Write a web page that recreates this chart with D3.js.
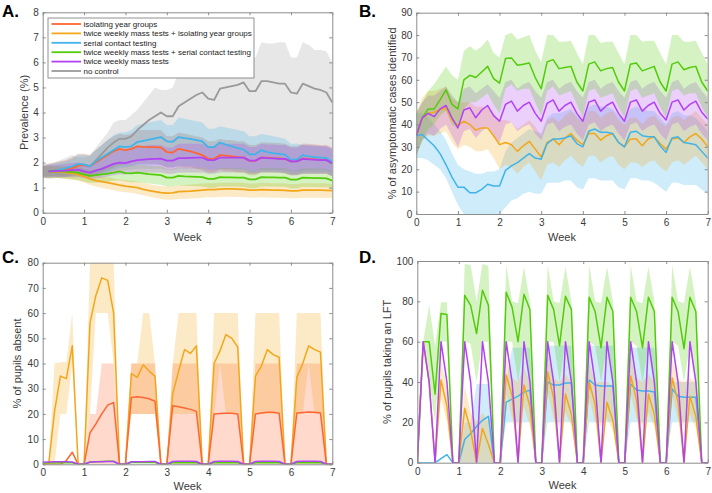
<!DOCTYPE html>
<html><head><meta charset="utf-8">
<script src="https://cdn.jsdelivr.net/npm/d3@7"></script>
<style>body{margin:0;background:#fff}</style>
</head><body>
<script>
// ---------------- DATA (daily values, day 0..49; x = day/7 weeks) ----------------
const weekTicks = [0,1,2,3,4,5,6,7];
const prevTicks = [0,1,2,3,4,5,6,7,8];
const detTicks = [0,10,20,30,40,50,60,70,80,90];
const absTicks = [0,10,20,30,40,50,60,70,80];
const lftTicks = [0,20,40,60,80,100];

const seriesNames = ["isolating year groups","twice weekly mass tests + isolating year groups","serial contact testing","twice weekly mass tests + serial contact testing","twice weekly mass tests","no control"];

// Panel A: prevalence (%)
const prevIsolating = [null,1.65,1.67,1.7,1.72,1.78,1.88,1.9,1.85,2.0,2.15,2.3,2.45,2.55,2.5,2.55,2.65,2.63,2.62,2.62,2.6,2.42,2.4,2.55,2.5,2.45,2.38,2.3,2.15,2.15,2.3,2.28,2.25,2.22,2.2,2.07,2.07,2.2,2.2,2.18,2.17,2.15,2.05,2.05,2.17,2.15,2.13,2.12,2.1,2.0];
const prevIsolatingLo = [1.45,1.45,1.45,1.45,1.45,1.5,1.5,1.5,1.45,1.5,1.6,1.7,1.8,1.9,1.9,1.9,1.95,1.95,1.95,1.95,1.9,1.8,1.8,1.85,1.8,1.8,1.75,1.7,1.6,1.6,1.7,1.65,1.65,1.6,1.6,1.5,1.5,1.6,1.6,1.6,1.6,1.55,1.5,1.5,1.55,1.55,1.55,1.55,1.55,1.45];
const prevIsolatingHi = [1.9,1.95,2.0,2.05,2.1,2.2,2.35,2.35,2.3,2.5,2.7,2.9,3.05,3.15,3.1,3.15,3.3,3.3,3.3,3.3,3.3,3.05,3.05,3.2,3.15,3.1,3.05,3.0,2.85,2.85,2.95,2.9,2.9,2.85,2.85,2.7,2.7,2.8,2.8,2.78,2.78,2.75,2.65,2.65,2.75,2.75,2.72,2.7,2.7,2.6];
const prevMassIso = [null,1.65,1.64,1.62,1.6,1.57,1.52,1.45,1.35,1.28,1.24,1.2,1.15,1.1,1.06,1.03,1.0,0.93,0.88,0.84,0.8,0.78,0.79,0.84,0.85,0.86,0.88,0.9,0.92,0.92,0.94,0.95,0.95,0.94,0.93,0.9,0.9,0.92,0.91,0.9,0.9,0.89,0.87,0.87,0.9,0.9,0.9,0.9,0.89,0.88];
const prevMassIsoLo = [1.4,1.4,1.4,1.38,1.35,1.32,1.28,1.2,1.12,1.05,1.0,0.95,0.9,0.85,0.82,0.8,0.75,0.7,0.65,0.6,0.55,0.52,0.52,0.55,0.56,0.57,0.58,0.6,0.62,0.62,0.63,0.64,0.64,0.63,0.63,0.6,0.6,0.62,0.61,0.6,0.6,0.6,0.58,0.58,0.6,0.6,0.6,0.6,0.6,0.58];
const prevMassIsoHi = [1.85,1.85,1.82,1.8,1.78,1.75,1.7,1.65,1.58,1.5,1.45,1.42,1.38,1.33,1.3,1.28,1.25,1.2,1.15,1.1,1.07,1.05,1.05,1.1,1.12,1.13,1.15,1.17,1.18,1.18,1.2,1.2,1.2,1.2,1.2,1.17,1.17,1.2,1.19,1.18,1.18,1.17,1.15,1.15,1.18,1.18,1.18,1.18,1.17,1.15];
const prevSerial = [null,1.65,1.68,1.72,1.78,1.85,1.95,1.92,1.85,2.05,2.2,2.35,2.5,2.65,2.62,2.65,2.82,2.87,2.92,2.97,3.02,2.85,2.83,3.02,2.98,2.95,2.9,2.85,2.62,2.62,2.8,2.72,2.65,2.58,2.52,2.33,2.33,2.5,2.42,2.38,2.35,2.32,2.12,2.12,2.3,2.25,2.22,2.2,2.18,2.02];
const prevSerialLo = [1.45,1.45,1.45,1.45,1.45,1.5,1.5,1.5,1.45,1.5,1.55,1.6,1.7,1.8,1.8,1.85,1.9,1.9,1.9,1.9,1.9,1.8,1.8,1.85,1.85,1.85,1.8,1.8,1.7,1.7,1.75,1.75,1.75,1.7,1.7,1.6,1.6,1.65,1.65,1.65,1.65,1.6,1.55,1.55,1.6,1.6,1.6,1.6,1.6,1.5];
const prevSerialHi = [1.85,1.9,1.95,2.0,2.05,2.15,2.3,2.3,2.25,2.5,2.7,2.9,3.1,3.2,3.2,3.3,3.5,3.55,3.6,3.65,3.7,3.5,3.5,3.8,3.75,3.7,3.65,3.6,3.35,3.35,3.45,3.4,3.35,3.3,3.25,3.05,3.05,3.15,3.1,3.05,3.0,2.95,2.75,2.75,2.7,2.68,2.66,2.64,2.62,2.5];
const prevMassSerial = [null,1.65,1.65,1.65,1.64,1.62,1.6,1.52,1.47,1.5,1.53,1.56,1.6,1.65,1.58,1.57,1.6,1.57,1.54,1.52,1.5,1.4,1.4,1.47,1.45,1.44,1.43,1.42,1.35,1.35,1.42,1.41,1.41,1.4,1.4,1.33,1.33,1.42,1.41,1.41,1.4,1.4,1.32,1.32,1.4,1.39,1.38,1.38,1.37,1.28];
const prevMassSerialLo = [1.4,1.4,1.4,1.38,1.36,1.34,1.3,1.25,1.2,1.2,1.22,1.25,1.28,1.3,1.25,1.22,1.22,1.2,1.17,1.14,1.12,1.05,1.05,1.1,1.08,1.07,1.06,1.05,1.0,1.0,1.05,1.05,1.05,1.04,1.04,0.98,0.98,1.05,1.05,1.05,1.04,1.04,0.97,0.97,1.04,1.03,1.03,1.02,1.02,0.95];
const prevMassSerialHi = [1.85,1.85,1.85,1.85,1.85,1.85,1.82,1.75,1.7,1.75,1.8,1.85,1.9,1.95,1.9,1.9,1.92,1.9,1.88,1.86,1.85,1.75,1.75,1.82,1.8,1.8,1.8,1.78,1.7,1.7,1.78,1.78,1.78,1.77,1.77,1.7,1.7,1.78,1.78,1.78,1.77,1.77,1.68,1.68,1.77,1.76,1.76,1.75,1.75,1.65];
const prevMass = [null,1.65,1.66,1.67,1.68,1.7,1.72,1.65,1.6,1.68,1.75,1.85,1.95,2.0,1.98,2.05,2.1,2.12,2.14,2.15,2.16,2.08,2.08,2.18,2.18,2.19,2.2,2.2,2.1,2.1,2.2,2.2,2.2,2.2,2.2,2.08,2.08,2.2,2.18,2.17,2.15,2.15,2.05,2.05,2.15,2.13,2.12,2.1,2.1,1.97];
const prevMassLo = [1.4,1.4,1.42,1.42,1.42,1.42,1.42,1.38,1.35,1.38,1.4,1.45,1.5,1.52,1.52,1.55,1.58,1.6,1.6,1.6,1.6,1.55,1.55,1.6,1.6,1.6,1.6,1.6,1.55,1.55,1.6,1.6,1.6,1.6,1.6,1.55,1.55,1.6,1.6,1.6,1.58,1.58,1.5,1.5,1.55,1.55,1.55,1.55,1.55,1.45];
const prevMassHi = [1.85,1.9,1.9,1.92,1.95,1.98,2.0,1.95,1.9,2.0,2.1,2.25,2.4,2.5,2.5,2.6,2.65,2.65,2.7,2.7,2.7,2.6,2.6,2.75,2.75,2.75,2.75,2.75,2.65,2.65,2.75,2.75,2.75,2.75,2.75,2.62,2.62,2.75,2.72,2.72,2.7,2.7,2.6,2.6,2.7,2.68,2.68,2.66,2.66,2.55];
const prevNoControl = [null,1.65,1.68,1.7,1.72,1.78,1.9,1.92,1.85,2.1,2.35,2.6,2.8,2.95,2.95,3.05,3.3,3.5,3.7,3.85,4.0,3.85,3.85,4.25,4.4,4.55,4.7,4.8,4.55,4.5,4.95,5.0,5.05,5.1,5.2,4.85,4.85,5.25,5.25,5.2,5.15,5.15,4.8,4.75,5.15,5.05,4.95,4.9,4.8,4.4];
const prevNoControlLo = [1.4,1.35,1.38,1.4,1.42,1.45,1.45,1.48,1.45,1.5,1.55,1.6,1.65,1.7,1.7,1.72,1.75,1.75,1.75,1.75,1.75,1.7,1.7,1.75,1.75,1.75,1.75,1.75,1.7,1.7,1.75,1.75,1.75,1.75,1.75,1.7,1.7,1.72,1.72,1.72,1.72,1.72,1.65,1.65,1.7,1.7,1.7,1.7,1.7,1.6];
const prevNoControlHi = [1.9,1.95,2.0,2.1,2.2,2.3,2.2,2.2,2.3,2.6,2.9,3.2,3.6,3.7,3.7,3.9,4.1,4.4,4.7,5.0,4.9,4.9,5.0,5.6,5.9,6.1,6.3,6.5,6.2,6.3,6.7,6.7,6.7,6.7,6.7,6.2,6.2,6.8,6.75,6.75,6.8,6.8,6.2,6.2,6.8,6.7,6.5,6.5,6.45,6.0];

// Panel B: % of asymptomatic cases identified
const detMassSerial = [35,43,47,47,51,55.5,49, 47,60,62,61,63.5,66,60.5, 58.5,69.5,69.8,66.5,67,67.5,61, 56,68,69,65,65.5,66,59, 55,67,68,64,65,65.5,59, 55,67,67.5,64,65,66,59, 55,67,68,64.5,65.5,66,59, 55];
const detMassSerialLo = [26,33,38,40,44,46,40, 38,47,50,50,52,54,49, 45,56,58,55,56,56,50, 44,55,57,53,54,55,49, 43,55,56,52,53,54,48, 43,55,56,52,53,54,48, 43,55,56,53,54,54,48, 43];
const detMassSerialHi = [45,50,55,58,62,66,62, 60,73,75,73,75,78,72, 70,80,81,78,79,80,73, 68,80,80,77,77,77.5,72, 67,80,80,76.5,77,77,72, 67,80,80,77,77.5,77.5,72, 67,80,80,77,77,77.5,72, 67];
const detMass = [35,43,45,43.5,47,48.5,43, 38.5,46.5,47.5,43,46.5,48.5,44, 41.5,49,50.5,46,48.5,50,45, 41.5,49.5,51,46,48.5,50,45, 41.5,50,51,46,48.5,50,45, 41.5,50,51,46,48.5,50,45, 42,50,51,46.5,49,50.5,45.5, 42.5];
const detMassLo = [26,33,36,35,38,40,35, 30,37,38,34,37,39,35, 32,40,41,37,39,40,36, 33,40,41,37,39,40,36, 33,40,41,37,39,40,36, 33,40,41,37,39,40,36, 33,40,41,37,39,40,36, 33];
const detMassHi = [45,50,53,53,55,57,53, 50,56,57,54,56,58,55, 52,59,60,56,58,59,55, 52,59,60,56,58,59,55, 52,59,60,56,58,59,55, 52,59,60,56,58,59,55, 52,59,60,56,58,59,55, 52];
const detMassIso = [35,43,45,45.5,46.5,47.5,42, 39.5,41.5,40,37.5,38.5,38.5,35, 31,32,31,28,30.5,32.5,29, 25.5,32,33.5,31,34,36,33, 31,36,36,33,35,36,32, 30,33.5,33.5,30.5,33.5,34.5,31.5, 29,33.5,34,32,34.5,36,33.5, 30];
const detMassIsoLo = [26,33,35,35,36,37,32, 29,31,30,28,28,29,25, 20,22,21,18,21,23,19, 15,22,23,21,24,26,23, 21,26,26,23,25,26,22, 20,23,23,21,23,24,21, 19,23,24,22,24,26,23, 20];
const detMassIsoHi = [45,52,55,55,56,57,52, 50,50,50,48,48,48,45, 42,42,41,38,40,42,39, 35,42,43,41,44,46,43, 41,46,46,43,45,46,42, 40,43,43,40,43,44,41, 39,43,44,42,44,46,43, 40];
const detSerial = [35,35.5,33,30.5,27,22,16.5, 12,12,9.5,9.5,11,13.3,12.5, 12.5,19.5,21.5,23,25,27,25, 24.5,31.5,33.5,33.5,34,35,31.5, 30,37,38,36.5,36.5,36,32, 30,36.5,37,35,34.5,34.5,30.5, 27.5,34,34.5,32,31.5,31,28, 25];
const detSerialLo = [25,25,24,22,20,16,10, 4,0,0,0,0,0,0, 0,3,6,7,9,10,9, 9,14,14,14,15,15,12, 11,16,16,15,15,15,12, 11,16,16,15,15,14,12, 10,14,14,13,13,13,11, 9];
const detSerialHi = [45,45,43,40,37,33,27, 22,20,19,18,18,19,19, 20,28,32,34,36,38,37, 36,43,45,45,46,47,44, 42,48,49,48,48,47,44, 42,47,48,47,46,46,43, 40,45,46,44,44,43,40, 37];

// Panel C: % of pupils absent
const absMassIso = [0,0,21,35,34,47,0, 0,56,67,74,73,60,0, 0,36,34.5,39.5,37,35,0, 0,28,37,45.5,44,47,0, 0,40,45,51.5,50,46.5,0, 0,35,39,45.5,43.5,42.5,0, 0,34.5,40,47,45.5,44.5,0, 0];
const absMassIsoLo = [0,0,0,20,20,40,0, 0,20,60,60,60,40,0, 0,20,20,20,20,20,0, 0,20,20,20,20,20,0, 0,20,40,20,20,20,0, 0,20,20,20,20,20,0, 0,20,20,40,20,20,0, 0];
const absMassIsoHi = [0,0,40,40.5,40.5,60,0, 0,80,80,80,80,80,0, 0,40,40,60,60,40,0, 0,40,60,60,60,60,0, 0,60,60,60,60,60,0, 0,60,60,60,60,60,0, 0,60,60,60,60,60,0, 0];
const absIsolating = [0,0,0,0,1.5,4.8,0, 0,12.5,16,20,23.5,24.5,0, 0,26.5,26.8,26.5,26,25,0, 0,23.2,22.8,22.3,21.8,21,0, 0,20,20.2,20.3,20.3,20,0, 0,20,20.4,20.7,20.7,20.3,0, 0,20.4,20.6,20.8,20.7,20.4,0, 0];
const absIsolatingLo = [0,0,0,0,0,0,0, 0,0,0,0,0,0,0, 0,20,20,20,20,20,0, 0,0,0,0,0,0,0, 0,0,0,0,0,0,0, 0,0,0,0,0,0,0, 0,0,0,0,0,0,0, 0];
const absIsolatingHi = [0,0,0,0,0,0,0, 0,20,20,40,40,40,0, 0,40,40,40,40,40,0, 0,40,40,40,40,40,0, 0,40,40,40,40,40,0, 0,40,40,40,40,40,0, 0,40,40,40,40,40,0, 0];
const absMassSerial = [0.5,0.6,0.6,0.6,0.6,0.6,0, 0,0.8,1.0,1.1,1.2,1.2,0, 0,0.7,0.7,0.7,0.7,0.7,0, 0,0.6,0.6,0.6,0.6,0.6,0, 0,0.6,0.6,0.6,0.6,0.6,0, 0,0.6,0.6,0.6,0.6,0.6,0, 0,0.6,0.6,0.6,0.6,0.6,0, 0];
const absMass = [0.8,0.9,1,1,1,0.9,0, 0,0.9,1,1,1.1,1.1,0, 0,1,1,1,1.1,1.1,0, 0,1.1,1.2,1.2,1.2,1.1,0, 0,1.1,1.2,1.2,1.2,1.1,0, 0,1.1,1.2,1.2,1.2,1.1,0, 0,1.1,1.2,1.2,1.2,1.1,0, 0];

// Panel D: % of pupils taking an LFT
const lftMassSerial = [0,60,60,34,74,73.5,0, 0,83,78,64,85.5,78,0, 0,84.5,77,60,83.5,76,0, 0,83,76,58,82.5,76,0, 0,82,75,57,82,75,0, 0,82,75,57,82,75,0, 0,82,75,56.5,82,75,0, 0];
const lftMassSerialLo = [0,59,40,20,60,60,0, 0,60,59,40,60,60,0, 0,60,60,40,60,40,0, 0,60,60,40,60,40,0, 0,60,58,40,58,40,0, 0,60,58,40,58,40,0, 0,60,58,40,58,40,0, 0];
const lftMassSerialHi = [0,60,78,58,79.5,79.5,0, 0,98.5,98,80,98.5,97.5,0, 0,98,80,79,97,80,0, 0,98,80,79,97,80,0, 0,98,80,79,97,80,0, 0,98,80,79,97,80,0, 0,98,80,79,97,80,0, 0];
const lftMassIso = [0,60,40,0,41,28,0, 0,27,16,0,17,9,0, 0,43.5,33,0,38.5,28,0, 0,45,32,0,34,24,0, 0,40,29,0,30,21,0, 0,43,31,0,34,24,0, 0,42,30,0,33,23,0, 0];
const lftMassIsoLo = [0,60,40,0,32,20,0, 0,0,0,0,0,0,0, 0,34,22,18,28,18,0, 0,35,22,18,25,18,0, 0,32,20,18,22,16,0, 0,34,22,18,25,18,0, 0,33,21,18,24,17,0, 0];
const lftMassIsoHi = [0,60,40,0,50,38,0, 0,38,25,20,25,20,0, 0,52,42,40,47,40,0, 0,54,42,40,44,40,0, 0,50,40,40,40,38,0, 0,52,42,40,44,40,0, 0,51,41,40,42,40,0, 0];
const lftSerial = [0,0,0,0,2,4,0, 0,11.5,14.5,18,21,23,0, 0,30,31.5,33,35,36,0, 0,40,38.5,38.5,39.5,39.5,0, 0,41,38.5,38,38,38,0, 0,39,36,35.5,35.5,35,0, 0,36.5,33,32.5,32.5,32.5,0, 0];
const lftSerialLo = [0,0,0,0,0,0,0, 0,0,0,0,0,0,0, 0,20,20,20,20,20,0, 0,20,20,20,20,20,0, 0,20,20,20,20,20,0, 0,20,20,20,20,20,0, 0,20,20,20,20,20,0, 0];
const lftSerialHi = [0,0,0,0,0,0,0, 0,20,20,39,39,39,0, 0,40,57,57,57,57,0, 0,58,58,58,58,58,0, 0,58,58,58,58,58,0, 0,57,57,57,57,57,0, 0,40,40,40,40,40,0, 0];
const lftMass = [0,60,40,0,60,40,0, 0,60,40,0,60,40,0, 0,60,40,0,60,40,0, 0,60,40,0,60,40,0, 0,60,40,0,60,40,0, 0,60,40,0,60,40,0, 0,60,40,0,60,40,0, 0];

// ---------------- STYLE ----------------
const C = {red:"#ff6633", orange:"#f2a71b", blue:"#40b4ea", green:"#52cc0a", purple:"#b142f5", gray:"#9a9a9a"};
const FONT = "'Liberation Sans', Arial, Helvetica, sans-serif";
const AXC = "#8c8c8c", TXT = "#3a3a3a";

const svg = d3.select("body").append("svg").attr("width",712).attr("height",493)
  .style("font-family", FONT);
svg.append("rect").attr("width",712).attr("height",493).attr("fill","#fff");

function drawPanel(p) {
  const x = d3.scaleLinear().domain([0,7]).range([p.L, p.R]);
  const y = d3.scaleLinear().domain([0, p.ymax]).range([p.B, p.T]);
  const g = svg.append("g");
  const cid = "clip" + p.id;
  svg.append("clipPath").attr("id", cid).append("rect")
    .attr("x", p.L).attr("y", p.T).attr("width", p.R - p.L).attr("height", p.B - p.T);
  const plot = g.append("g").attr("clip-path", `url(#${cid})`);
  p.bands.forEach(b => {
    const area = d3.area()
      .x((d,i) => x(i/7)).y0((d,i) => y(b.lo[i])).y1((d,i) => y(b.hi[i]));
    plot.append("path").datum(b.lo).attr("d", area)
      .attr("fill", b.color).attr("fill-opacity", b.op || 0.25).attr("stroke","none");
  });
  p.lines.forEach(l => {
    const line = d3.line().defined(d => d != null).x((d,i) => x(i/7)).y(d => y(d));
    plot.append("path").datum(l.data).attr("d", line)
      .attr("fill","none").attr("stroke", l.color).attr("stroke-width", p.lw)
      .attr("stroke-linejoin","round");
  });
  const ax = [
    g.append("g").attr("transform",`translate(0,${p.B})`)
      .call(d3.axisBottom(x).tickValues(weekTicks).tickSize(-3).tickSizeOuter(0).tickPadding(p.xpad).tickFormat(d3.format("d"))),
    g.append("g").attr("transform",`translate(0,${p.T})`)
      .call(d3.axisTop(x).tickValues(weekTicks).tickSize(-3).tickSizeOuter(0).tickFormat("")),
    g.append("g").attr("transform",`translate(${p.L},0)`)
      .call(d3.axisLeft(y).tickValues(p.yticks).tickSize(-3).tickSizeOuter(0).tickPadding(4).tickFormat(d3.format("d"))),
    g.append("g").attr("transform",`translate(${p.R},0)`)
      .call(d3.axisRight(y).tickValues(p.yticks).tickSize(-3).tickSizeOuter(0).tickFormat(""))
  ];
  ax.forEach(a => {
    a.select(".domain").attr("stroke", AXC);
    a.selectAll(".tick line").attr("stroke", AXC);
    a.selectAll(".tick text").attr("fill", TXT).style("font-size","10px").style("font-family", FONT);
  });
  g.append("text").attr("x", (p.L + p.R)/2).attr("y", p.B + p.wk)
    .attr("text-anchor","middle").attr("fill", TXT).style("font-size","11px").text("Week");
  g.append("text").attr("transform", `translate(${p.ylx},${(p.T+p.B)/2}) rotate(-90)`)
    .attr("text-anchor","middle").attr("fill", TXT).style("font-size","11px").text(p.ylabel);
  g.append("text").attr("x", p.lx).attr("y", p.ly).attr("fill","#000")
    .style("font-size","17px").style("font-weight","bold").text(p.letter);
  return {x, y, g};
}

// Panel A
drawPanel({id:"A", L:42.7, R:332.3, T:12.3, B:212.7, ymax:8, yticks:prevTicks, xpad:5, wk:28,
  ylx:28, ylabel:"Prevalence (%)", letter:"A.", lx:2, ly:17, lw:1.8,
  bands:[
    {lo:prevNoControlLo, hi:prevNoControlHi, color:"#a0a0a0", op:0.25},
    {lo:prevIsolatingLo, hi:prevIsolatingHi, color:"#c07060", op:0.3},
    {lo:prevMassIsoLo, hi:prevMassIsoHi, color:C.orange},
    {lo:prevSerialLo, hi:prevSerialHi, color:C.blue},
    {lo:prevMassSerialLo, hi:prevMassSerialHi, color:C.green},
    {lo:prevMassLo, hi:prevMassHi, color:C.purple}
  ],
  lines:[
    {data:prevNoControl, color:C.gray},
    {data:prevIsolating, color:C.red},
    {data:prevMassIso, color:C.orange},
    {data:prevSerial, color:C.blue},
    {data:prevMassSerial, color:C.green},
    {data:prevMass, color:C.purple}
  ]});

// Legend (panel A)
const legColors = [C.red, C.orange, C.blue, C.green, C.purple, C.gray];
const leg = svg.append("g");
leg.append("rect").attr("x",48).attr("y",18).attr("width",206).attr("height",60)
  .attr("fill","#fff").attr("stroke","#777").attr("stroke-width",0.8);
seriesNames.forEach((name, i) => {
  const yy = 24 + i * 9.4;
  leg.append("line").attr("x1",51.5).attr("x2",81).attr("y1",yy).attr("y2",yy)
    .attr("stroke", legColors[i]).attr("stroke-width",1.8);
  leg.append("text").attr("x",83.5).attr("y",yy).attr("dy","0.35em")
    .attr("fill","#222").style("font-size","8px").text(name);
});

// Panel B
drawPanel({id:"B", L:416.3, R:707.7, T:12.7, B:214, ymax:90, yticks:detTicks, xpad:5, wk:27,
  ylx:395.5, ylabel:"% of asymptomatic cases identified", letter:"B.", lx:359, ly:17, lw:1.5,
  bands:[
    {lo:detSerialLo, hi:detSerialHi, color:C.blue},
    {lo:detMassIsoLo, hi:detMassIsoHi, color:C.orange},
    {lo:detMassLo, hi:detMassHi, color:C.purple},
    {lo:detMassSerialLo, hi:detMassSerialHi, color:C.green}
  ],
  lines:[
    {data:detMassSerial, color:C.green},
    {data:detMassIso, color:C.orange},
    {data:detSerial, color:C.blue},
    {data:detMass, color:C.purple}
  ]});

// Panel C
drawPanel({id:"C", L:42.7, R:332.3, T:262.7, B:464.3, ymax:80, yticks:absTicks, xpad:5, wk:26,
  ylx:21, ylabel:"% of pupils absent", letter:"C.", lx:2, ly:263, lw:1.5,
  bands:[
    {lo:absIsolatingLo, hi:absIsolatingHi, color:C.red},
    {lo:absMassIsoLo, hi:absMassIsoHi, color:C.orange}
  ],
  lines:[
    {data:absMassIso, color:C.orange},
    {data:absIsolating, color:C.red},
    {data:absMassSerial, color:C.green},
    {data:absMass, color:C.purple}
  ]});

// Panel D
drawPanel({id:"D", L:417.3, R:707.7, T:261, B:462.7, ymax:100, yticks:lftTicks, xpad:5, wk:26,
  ylx:391, ylabel:"% of pupils taking an LFT", letter:"D.", lx:359, ly:263, lw:1.5,
  bands:[
    {lo:lftSerialLo, hi:lftSerialHi, color:C.blue},
    {lo:lftMassIsoLo, hi:lftMassIsoHi, color:C.orange},
    {lo:lftMassSerialLo, hi:lftMassSerialHi, color:C.green}
  ],
  lines:[
    {data:lftMassSerial, color:C.green},
    {data:lftSerial, color:C.blue},
    {data:lftMassIso, color:C.orange},
    {data:lftMass, color:C.purple}
  ]});
</script>
</body></html>
